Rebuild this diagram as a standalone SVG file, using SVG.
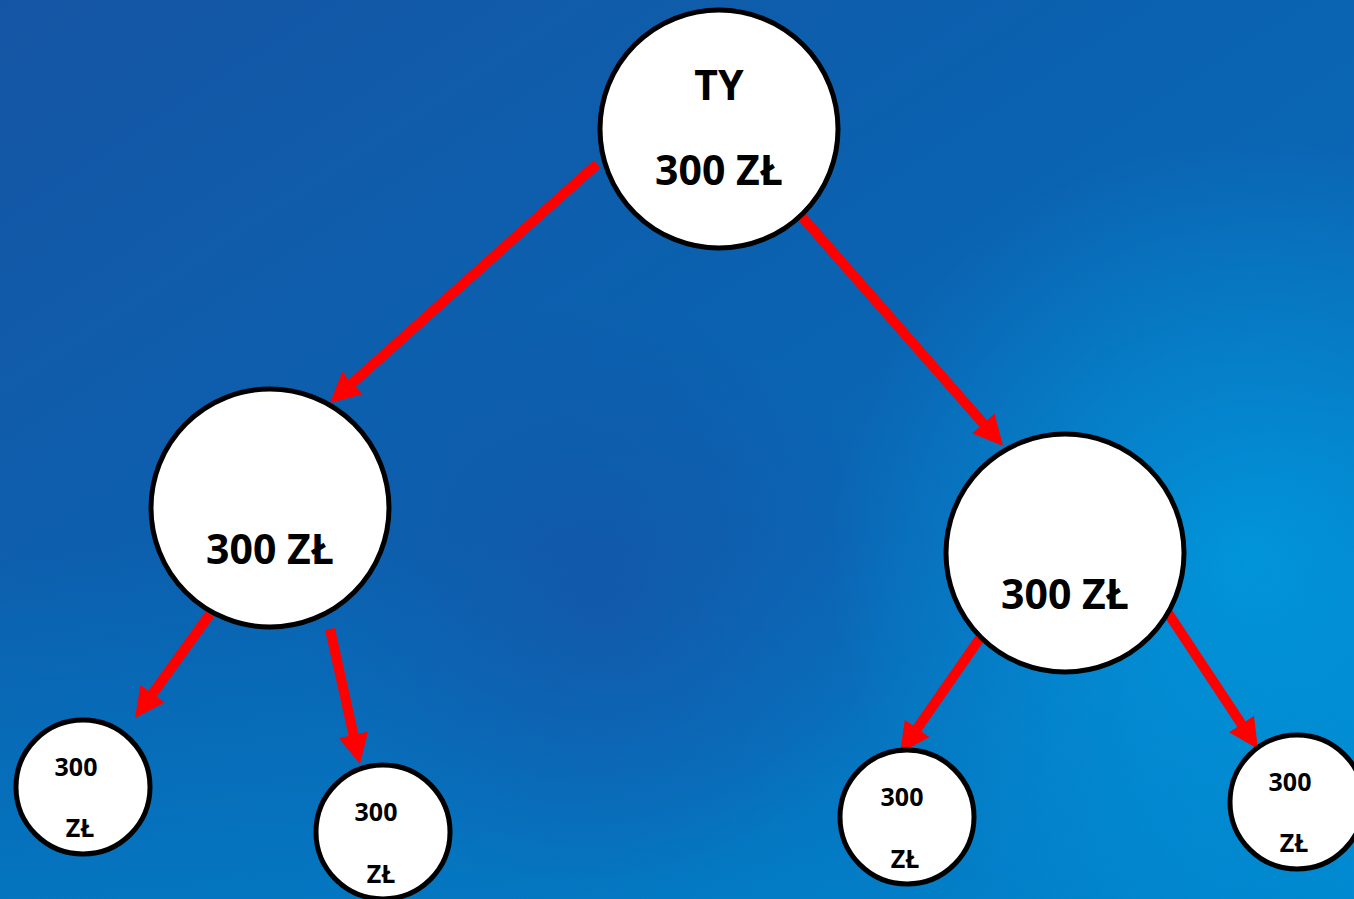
<svg xmlns="http://www.w3.org/2000/svg" width="1354" height="899" viewBox="0 0 1354 899">
<style>
.node{fill:#fff;stroke:#000;stroke-width:5}
.t{font-family:"Noto Sans","Open Sans","Liberation Sans",sans-serif;font-weight:700;fill:#000;text-anchor:middle}
.big{font-size:41px}
.sm{font-size:25px}
.arr{stroke:#ff0000;stroke-width:10;fill:none;marker-end:url(#ah)}
</style>
<defs>
<linearGradient id="bg" x1="0" y1="0" x2="1" y2="1">
<stop offset="0" stop-color="#1655a5"/>
<stop offset="0.45" stop-color="#0a62b0"/>
<stop offset="0.7" stop-color="#0a6ab8"/>
<stop offset="1" stop-color="#0090d6"/>
</linearGradient>
<linearGradient id="bot" x1="0" y1="0" x2="0" y2="1">
<stop offset="0.6" stop-color="#0080c8" stop-opacity="0"/>
<stop offset="1" stop-color="#0080c8" stop-opacity="0.6"/>
</linearGradient>
<radialGradient id="hl" cx="1250" cy="560" r="420" gradientUnits="userSpaceOnUse">
<stop offset="0" stop-color="#0098dc" stop-opacity="0.9"/>
<stop offset="1" stop-color="#0098dc" stop-opacity="0"/>
</radialGradient>
<radialGradient id="dk" cx="600" cy="600" r="300" gradientUnits="userSpaceOnUse">
<stop offset="0" stop-color="#1a4aa0" stop-opacity="0.5"/>
<stop offset="1" stop-color="#1a4aa0" stop-opacity="0"/>
</radialGradient>
<marker id="ah" viewBox="0 0 10 10" refX="3" refY="5" markerWidth="3" markerHeight="3.2" orient="auto" markerUnits="strokeWidth">
<path d="M0,0 L10,5 L0,10 z" fill="#ff0000"/>
</marker>
</defs>
<rect width="1354" height="899" fill="url(#bg)"/>
<rect width="1354" height="899" fill="url(#bot)"/>
<rect width="1354" height="899" fill="url(#dk)"/>
<rect width="1354" height="899" fill="url(#hl)"/>
<g id="connectors">
<line class="arr" x1="597" y1="164" x2="345.6" y2="389"/>
<line class="arr" x1="796" y1="210" x2="989.2" y2="430.2"/>
<line class="arr" x1="210" y1="614" x2="147.3" y2="701"/>
<line class="arr" x1="330" y1="629" x2="355.4" y2="743.5"/>
<line class="arr" x1="980" y1="638" x2="912" y2="735.8"/>
<line class="arr" x1="1168" y1="613" x2="1246.4" y2="731.5"/>
</g>
<g id="node-ty">
<circle class="node" cx="719" cy="129" r="119"/>
<text class="t big" x="719" y="100">TY</text>
<text class="t big" x="719" y="185">300 ZŁ</text>
</g>
<g id="node-left">
<circle class="node" cx="270" cy="508" r="119"/>
<text class="t big" x="270" y="564">300 ZŁ</text>
</g>
<g id="node-right">
<circle class="node" cx="1065" cy="553" r="119"/>
<text class="t big" x="1065" y="609">300 ZŁ</text>
</g>
<g id="node-a">
<circle class="node" cx="83" cy="787" r="67"/>
<text class="t sm" x="76" y="776">300</text>
<text class="t sm" x="80" y="837">ZŁ</text>
</g>
<g id="node-b">
<circle class="node" cx="383" cy="832" r="67"/>
<text class="t sm" x="376" y="821">300</text>
<text class="t sm" x="381" y="883">ZŁ</text>
</g>
<g id="node-c">
<circle class="node" cx="907" cy="817" r="67"/>
<text class="t sm" x="902" y="806">300</text>
<text class="t sm" x="905" y="868">ZŁ</text>
</g>
<g id="node-d">
<circle class="node" cx="1297" cy="802" r="67"/>
<text class="t sm" x="1290" y="791">300</text>
<text class="t sm" x="1294" y="852">ZŁ</text>
</g>
</svg>
